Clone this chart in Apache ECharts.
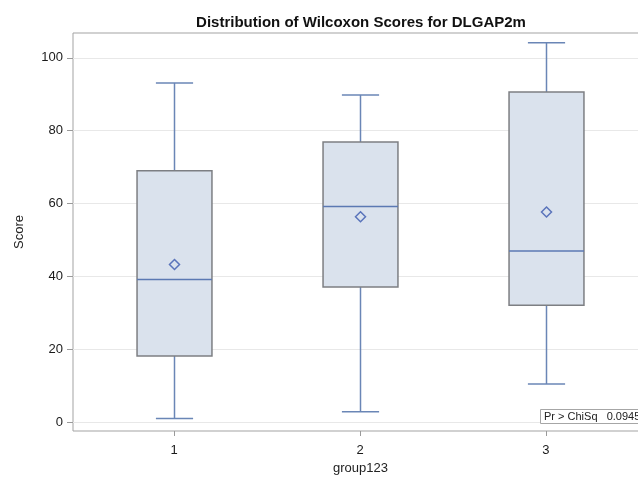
<!DOCTYPE html>
<html>
<head>
<meta charset="utf-8">
<script src="https://cdn.jsdelivr.net/npm/echarts@6/dist/echarts.min.js"></script>
<style>
html,body{margin:0;padding:0;background:#fff;}
#chart{width:638px;height:479px;}
</style>
</head>
<body>
<div id="chart"></div>
<script>
// ---- data ----
const categories = [1, 2, 3];
const whiskerLow = [1.0, 2.9, 10.5];
const q1Values = [18.2, 37.1, 32.1];
const medians = [39.2, 59.2, 47.0];
const q3Values = [69.0, 76.9, 90.6];
const whiskerHigh = [93.1, 89.8, 104.1];
const means = [43.3, 56.4, 57.7];
const yTicks = [0, 20, 40, 60, 80, 100];
const titleText = 'Distribution of Wilcoxon Scores for DLGAP2m';
const insetLabel = 'Pr > ChiSq';
const insetValue = '0.0945';

const BOX_W = 0.403;
const CAP_W = 0.2;

const seriesData = categories.map((c, i) => [c, whiskerLow[i], q1Values[i], medians[i], q3Values[i], whiskerHigh[i], means[i]]);

const whiskerColor = '#6a86b6';
const medianColor = '#5b79b3';
const boxFill = '#dae2ed';
const boxBorder = '#7d7f83';
const meanColor = '#5a74bb';

function renderItem(params, api) {
  const x = api.value(0);
  const lo = api.coord([x, api.value(1)]);
  const q1 = api.coord([x, api.value(2)]);
  const med = api.coord([x, api.value(3)]);
  const q3 = api.coord([x, api.value(4)]);
  const hi = api.coord([x, api.value(5)]);
  const mn = api.coord([x, api.value(6)]);
  const hb = api.size([BOX_W, 0])[0] / 2;
  const hc = api.size([CAP_W, 0])[0] / 2;
  const cx = Math.round(lo[0]) + 0.5;
  const lineStyle = {stroke: whiskerColor, lineWidth: 1.5};
  const d = 5;
  return {
    type: 'group',
    children: [
      {type: 'line', shape: {x1: cx, y1: hi[1], x2: cx, y2: q3[1]}, style: lineStyle},
      {type: 'line', shape: {x1: cx, y1: q1[1], x2: cx, y2: lo[1]}, style: lineStyle},
      {type: 'line', shape: {x1: cx - hc, y1: hi[1], x2: cx + hc, y2: hi[1]}, style: lineStyle},
      {type: 'line', shape: {x1: cx - hc, y1: lo[1], x2: cx + hc, y2: lo[1]}, style: lineStyle},
      {type: 'rect', shape: {x: cx - hb, y: q3[1], width: 2 * hb, height: q1[1] - q3[1]},
        style: {fill: boxFill, stroke: boxBorder, lineWidth: 1.5}},
      {type: 'line', shape: {x1: cx - hb, y1: med[1], x2: cx + hb, y2: med[1]},
        style: {stroke: medianColor, lineWidth: 1.5}},
      {type: 'polygon', shape: {points: [[cx, mn[1] - d], [cx + d, mn[1]], [cx, mn[1] + d], [cx - d, mn[1]]]},
        style: {fill: 'none', stroke: meanColor, lineWidth: 1.5}}
    ]
  };
}

const FONT = 'Liberation Sans, Arial, sans-serif';
const chart = echarts.init(document.getElementById('chart'), null, {renderer: 'canvas'});
chart.setOption({
  animation: false,
  backgroundColor: '#ffffff',
  textStyle: {fontFamily: FONT},
  title: [
    {
      text: titleText,
      left: 356, top: 10, textAlign: 'center',
      textStyle: {fontSize: 15, fontWeight: 'bold', color: '#111', fontFamily: FONT}
    },
    {
      text: insetLabel + '   ' + insetValue,
      left: 540, top: 409,
      padding: [2, 4, 2, 4],
      borderColor: '#a6a6a6', borderWidth: 1, backgroundColor: '#ffffff',
      textStyle: {fontSize: 11, fontWeight: 'normal', color: '#222', fontFamily: FONT}
    }
  ],
  grid: {left: 73, top: 33, width: 575, bottom: 48, outerBoundsMode: 'none', containLabel: false,
    show: true, borderColor: '#a3a3a3', borderWidth: 1, backgroundColor: 'transparent'},
  xAxis: {
    type: 'value',
    min: 0.456, max: 3.549,
    name: 'group123', nameLocation: 'middle', nameGap: 29,
    nameTextStyle: {fontSize: 13, color: '#222'},
    axisLine: {show: false, onZero: false},
    axisTick: {show: true, length: 5, lineStyle: {color: '#9a9a9a'}, customValues: categories},
    axisLabel: {fontSize: 13, color: '#1a1a1a', margin: 13, customValues: categories, formatter: v => String(Math.round(v))},
    splitLine: {show: false}
  },
  yAxis: {
    type: 'value',
    min: -2.4, max: 106.8,
    name: 'Score', nameLocation: 'middle', nameGap: 47, nameRotate: 90,
    nameTextStyle: {fontSize: 13, color: '#222'},
    axisLine: {show: false, onZero: false},
    axisTick: {show: true, length: 6, lineStyle: {color: '#9a9a9a'}, customValues: yTicks},
    axisLabel: {fontSize: 13, color: '#1a1a1a', margin: 10, customValues: yTicks, formatter: v => String(Math.round(v))},
    splitLine: {show: true, lineStyle: {color: '#e8e8e8', width: 1}}
  },
  series: [{
    type: 'custom',
    renderItem: renderItem,
    encode: {x: 0, y: [1, 2, 3, 4, 5, 6]},
    data: seriesData,
    clip: false
  }]
});
</script>
</body>
</html>
